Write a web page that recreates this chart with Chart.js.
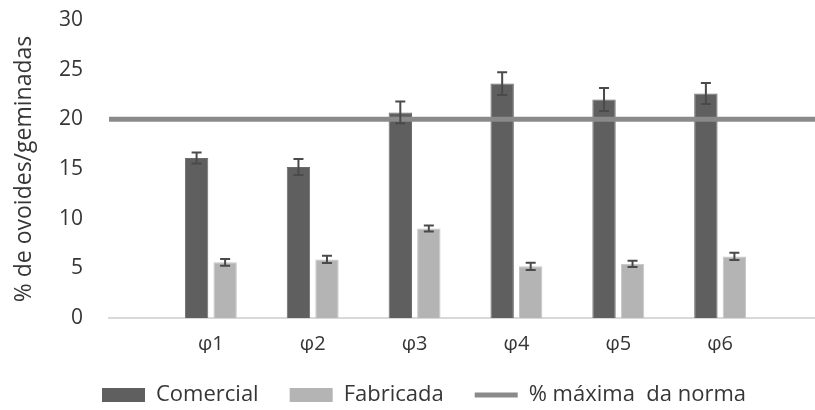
<!DOCTYPE html>
<html>
<head>
<meta charset="utf-8">
<script src="https://cdn.jsdelivr.net/npm/chart.js@4.4.1/dist/chart.umd.min.js"></script>
<style>
  html, body { margin: 0; padding: 0; background: #fff; overflow: hidden; }
</style>
</head>
<body>
<canvas id="chart" width="830" height="410"></canvas>
<script>
// values
var categories = ['φ1', 'φ2', 'φ3', 'φ4', 'φ5', 'φ6'];
var comercial = [16.1, 15.2, 20.7, 23.6, 22.0, 22.6];
var comercialErr = [0.55, 0.8, 1.1, 1.15, 1.15, 1.05];
var fabricada = [5.6, 5.9, 9.0, 5.2, 5.45, 6.2];
var fabricadaErr = [0.33, 0.37, 0.3, 0.37, 0.32, 0.37];
var normaMax = 20;   // % máxima da norma
var yTicks = [0, 5, 10, 15, 20, 25, 30];

// excel axis was "on tick marks" with an empty category at each end
var labels = [''].concat(categories, ['']);
function pad(arr) { return [null].concat(arr, [null]); }

var font = 'Open Sans';
var textColor = '#363636';

// draws the +/- error bars on top of the bars
var errorBars = {
    id: 'errorBars',
    afterDatasetsDraw: function (chart) {
        var ctx = chart.ctx;
        var y = chart.scales.y;
        chart.data.datasets.forEach(function (ds, i) {
            if (!ds.errors) return;
            var meta = chart.getDatasetMeta(i);
            meta.data.forEach(function (bar, j) {
                var v = ds.data[j], e = ds.errors[j];
                if (v == null || e == null) return;
                var top = y.getPixelForValue(v + e);
                var bot = y.getPixelForValue(v - e);
                ctx.save();
                ctx.strokeStyle = '#4a4a4a';
                ctx.lineWidth = 2;
                ctx.beginPath();
                ctx.moveTo(bar.x, top); ctx.lineTo(bar.x, bot);
                ctx.moveTo(bar.x - 5, top); ctx.lineTo(bar.x + 5, top);
                ctx.moveTo(bar.x - 5, bot); ctx.lineTo(bar.x + 5, bot);
                ctx.stroke();
                ctx.restore();
            });
        });
    }
};

// legend in the original starts under the y labels, not at the canvas edge
var legendLeft = {
    id: 'legendLeft',
    afterLayout: function (chart) {
        chart.legend.left = 102 - chart.legend.options.labels.padding;
    }
};

var ctx = document.getElementById('chart');

var chart = new Chart(ctx, {
    type: 'bar',
    data: {
        labels: labels,
        datasets: [
            {
                label: 'Comercial',
                data: pad(comercial),
                errors: pad(comercialErr),
                backgroundColor: '#5f5f5f',
                borderColor: '#6c6c6c',
                borderWidth: 1,
                order: 1
            },
            {
                label: 'Fabricada',
                data: pad(fabricada),
                errors: pad(fabricadaErr),
                backgroundColor: '#b4b4b4',
                borderColor: '#c6c6c6',
                borderWidth: 1,
                order: 1
            },
            {
                type: 'line',
                label: '% máxima  da norma',
                data: labels.map(function () { return normaMax; }),
                borderColor: '#8a8a8a',
                backgroundColor: '#8a8a8a',
                borderWidth: 5,
                pointRadius: 0,
                order: 0
            }
        ]
    },
    options: {
        responsive: false,
        animation: false,
        categoryPercentage: 0.56,
        barPercentage: 0.82,
        layout: { padding: { left: 11, right: 8, top: 20, bottom: 0 } },
        plugins: {
            tooltip: { enabled: false },
            legend: {
                position: 'bottom',
                align: 'start',
                maxHeight: 57,
                labels: {
                    usePointStyle: true,
                    pointStyleWidth: 43,
                    boxHeight: 14,
                    padding: 31,
                    color: textColor,
                    font: { family: font, size: 22 },
                    sort: function (a, b) { return a.datasetIndex - b.datasetIndex; },
                    generateLabels: function (chart) {
                        var items = Chart.defaults.plugins.legend.labels.generateLabels(chart);
                        items.forEach(function (it) {
                            it.pointStyle = chart.data.datasets[it.datasetIndex].type === 'line' ? 'line' : 'rect';
                            it.lineWidth = it.pointStyle === 'line' ? 5 : 0;
                        });
                        return items;
                    }
                }
            }
        },
        scales: {
            x: {
                offset: false,
                grid: { display: false, drawTicks: false },
                border: { display: true, color: '#d9d9d9', width: 2 },
                ticks: {
                    color: textColor,
                    font: { family: font, size: 20 },
                    padding: 14,
                    maxRotation: 0,
                    autoSkip: false
                },
                afterFit: function (scale) {
                    scale.height = 35;
                    scale.paddingLeft = 0;
                    scale.paddingRight = 0;
                }
            },
            y: {
                min: yTicks[0],
                max: yTicks[yTicks.length - 1],
                grid: { display: false, drawTicks: false },
                border: { display: false },
                ticks: {
                    stepSize: yTicks[1] - yTicks[0],
                    padding: 26,
                    color: textColor,
                    font: { family: font, size: 21 }
                },
                title: {
                    display: true,
                    text: '% de ovoides/geminadas',
                    color: textColor,
                    font: { family: font, size: 23 },
                    padding: { top: 0, bottom: 0 }
                },
                afterFit: function (scale) {
                    scale.width = 98;
                    scale.paddingTop = 0;
                    scale.paddingBottom = 0;
                }
            }
        }
    },
    plugins: [errorBars, legendLeft]
});
</script>
</body>
</html>
